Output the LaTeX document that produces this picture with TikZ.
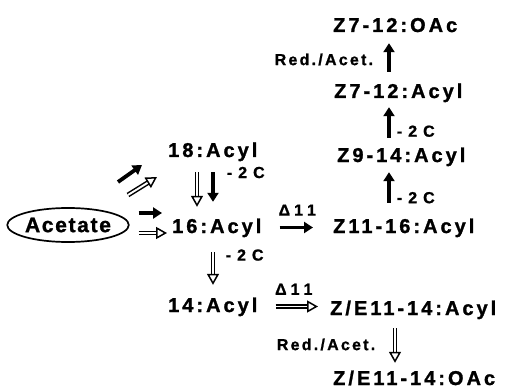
\documentclass[tikz,border=0pt]{standalone}
\usepackage{fontspec}
\setmainfont{Liberation Sans}
\newfontfamily\chemfont[LetterSpace=15, BoldFeatures={FakeBold=1.3}]{Liberation Sans}
\newfontfamily\notefont[LetterSpace=14, BoldFeatures={FakeBold=1}]{Liberation Sans}
\newfontfamily\acetfont[LetterSpace=8, BoldFeatures={FakeBold=1.3}]{Liberation Sans}
\usetikzlibrary{arrows.meta,shapes.geometric}

\begin{document}
\begin{tikzpicture}[x=1pt,y=-1pt,
    chem/.style={font=\chemfont\bfseries\fontsize{20}{24}\selectfont, inner sep=0pt,
                 text height=15pt, text depth=4pt, anchor=base west},
    note/.style={font=\notefont\bfseries\fontsize{16}{18}\selectfont, inner sep=0pt},
    fullarr/.style={line width=3.8pt, -{Triangle[length=9pt,width=11pt]}},
    openarr/.style={line width=1.5pt, double distance=1.9pt,
                    -{Triangle[length=11pt,width=12pt,fill=white]}}]
    \useasboundingbox (0,0) rectangle (513,390);

    % compounds
    \node[chem] (z712o) at (333,32) {Z7-12:OAc};
    \node[chem] (z712a) at (334,98) {Z7-12:Acyl};
    \node[chem] (z914a) at (337,162) {Z9-14:Acyl};
    \node[chem] (z1116a) at (333,233) {Z11-16:Acyl};
    \node[chem] (a18) at (168,157) {18:Acyl};
    \node[chem] (a16) at (172,233) {16:Acyl};
    \node[chem] (a14) at (168,312) {14:Acyl};
    \node[chem] (ze1114a) at (330,315) {Z/E11-14:Acyl};
    \node[chem] (ze1114o) at (333,385) {Z/E11-14:OAc};
    \node[draw, ellipse, line width=1.7pt, minimum width=110pt, minimum height=34pt,
          inner sep=0pt, font=\acetfont\bfseries\fontsize{21}{24}\selectfont] (acet) at (68,225) {Acetate};

    % arrow columns
    \coordinate (zcol) at (389,0);
    \coordinate (col18) at (197,0);
    \coordinate (col16) at (213,0);
    \coordinate (zecol) at (395,0);

    % Z chain (upwards)
    \draw[fullarr, shorten <=15pt, shorten >=6pt] (z1116a.north -| zcol) -- (z914a.south -| zcol)
        node[note, pos=0.39, right=6pt] (c2a) {-\hspace{6pt}2\hspace{6pt}C};
    \draw[fullarr, shorten <=9pt, shorten >=5pt] (z914a.north -| zcol) -- (z712a.south -| zcol)
        node[note, pos=0.35, right=6pt] (c2b) {-\hspace{6pt}2\hspace{6pt}C};
    \draw[fullarr, shorten <=11pt, shorten >=7pt] (z712a.north -| zcol) -- (z712o.south -| zcol)
        node[note, midway, left=14pt] (ra1) {Red./Acet.};

    % from acetate
    \draw[fullarr] ([shift={(50,-43)}]acet.center) -- ([shift={(74,-60)}]acet.center);
    \draw[openarr] ([shift={(60,-30)}]acet.center) -- ([shift={(89,-48)}]acet.center);
    \draw[fullarr, shorten <=9pt, shorten >=10pt] ([yshift=12pt]acet.east) -- ([yshift=12pt]acet.east -| a16.west);
    \draw[openarr, shorten <=9pt, shorten >=5pt] ([yshift=-8pt]acet.east) -- ([yshift=-8pt]acet.east -| a16.west);

    % chain shortening
    \draw[openarr, shorten <=11pt, shorten >=11pt] (a18.south -| col18) -- (a16.north -| col18);
    \draw[fullarr, shorten <=11pt, shorten >=16pt] (a18.south -| col16) -- (a16.north -| col16)
        node[note, pos=0.2, right=12pt] (c2c) {-\hspace{6pt}2\hspace{6pt}C};
    \draw[openarr, shorten <=15pt, shorten >=12pt] (a16.south -| col16) -- (a14.north -| col16)
        node[note, pos=0.3, right=12pt] (c2d) {-\hspace{6pt}2\hspace{6pt}C};

    % desaturation
    \draw[fullarr, shorten <=18pt, shorten >=20pt] (a16.east) -- (a16.east -| z1116a.west)
        node[note, midway, above=10pt] (d11a) {Δ\hspace{4pt}1\hspace{4pt}1};
    \draw[openarr, shorten <=18pt, shorten >=12pt] (a14.east) -- (a14.east -| ze1114a.west)
        node[note, midway, above=11pt] (d11b) {Δ\hspace{4pt}1\hspace{4pt}1};

    % Z/E chain (downwards)
    \draw[openarr, shorten <=9pt, shorten >=7pt] (ze1114a.south -| zecol) -- (ze1114o.north -| zecol)
        node[note, midway, left=19pt] (ra2) {Red./Acet.};
\end{tikzpicture}
\end{document}
